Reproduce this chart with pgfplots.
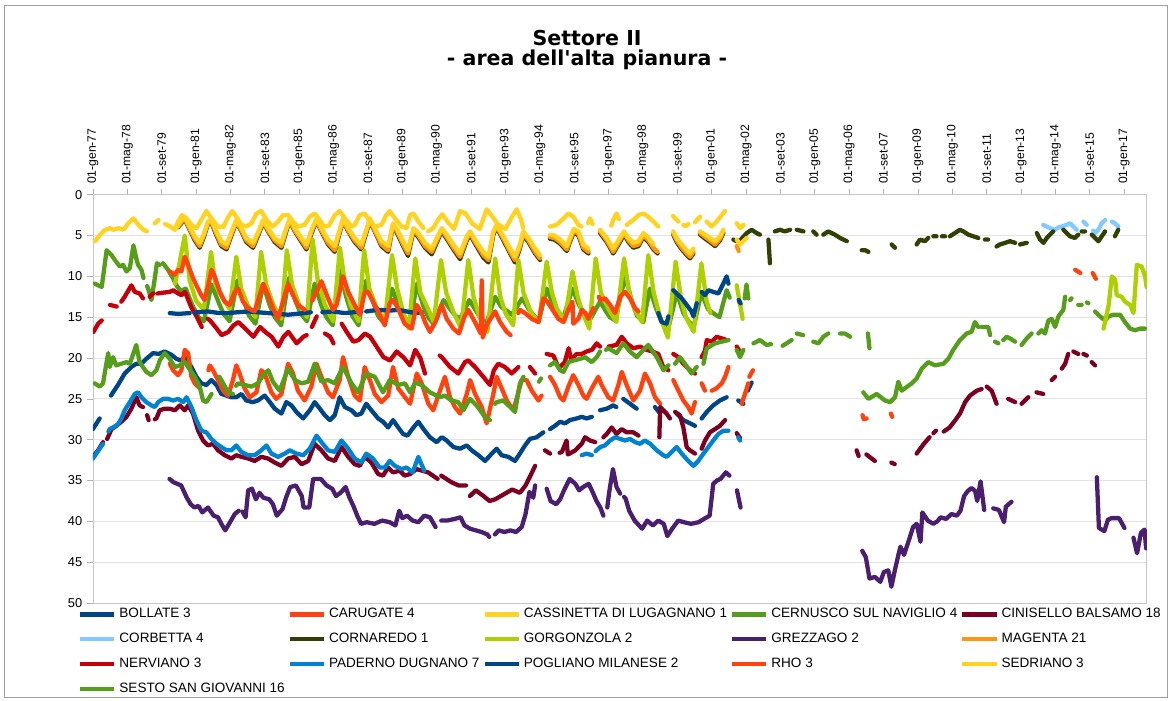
\documentclass[border=0pt]{standalone}
\usepackage{fontspec}
\setmainfont{Liberation Sans}[Ligatures=TeXOff]
\newfontfamily\titlefont{DejaVu Sans}[Ligatures=TeXOff]
\usepackage{pgfplots}
\pgfplotsset{compat=1.18}
\definecolor{cBol}{HTML}{004586}
\definecolor{cCar}{HTML}{FF420E}
\definecolor{cCas}{HTML}{FFD320}
\definecolor{cCer}{HTML}{579D1C}
\definecolor{cCin}{HTML}{7E0021}
\definecolor{cCor}{HTML}{83CAFF}
\definecolor{cCrn}{HTML}{314004}
\definecolor{cGor}{HTML}{AECF00}
\definecolor{cGre}{HTML}{4B1F6F}
\definecolor{cMag}{HTML}{FF950E}
\definecolor{cNer}{HTML}{C5000B}
\definecolor{cPad}{HTML}{0084D1}
\begin{document}
\begin{tikzpicture}
\useasboundingbox (-65.1pt,-67.9pt) rectangle (754.9pt,422.3pt);
\draw[gray!75, line width=0.7pt] (-61.6pt,-65.8pt) rectangle (752.1pt,418.1pt);
\node[align=center, font=\titlefont\fontsize{14.4}{14}\selectfont\bfseries] at (346pt,387.3pt) {Settore II\\- area dell'alta pianura -};
\begin{axis}[
  scale only axis, width=738pt, height=286pt,
  xmin=1977, xmax=2017.88, ymin=0, ymax=50, y dir=reverse,
  axis line style={gray!45, line width=0.6pt},
  xtick={1977,1978.3333,1979.6667,1981,1982.3333,1983.6667,1985,1986.3333,1987.6667,1989,1990.3333,1991.6667,1993,1994.3333,1995.6667,1997,1998.3333,1999.6667,2001,2002.3333,2003.6667,2005,2006.3333,2007.6667,2009,2010.3333,2011.6667,2013,2014.3333,2015.6667,2017},
  xticklabels={01-gen-77,01-mag-78,01-set-79,01-gen-81,01-mag-82,01-set-83,01-gen-85,01-mag-86,01-set-87,01-gen-89,01-mag-90,01-set-91,01-gen-93,01-mag-94,01-set-95,01-gen-97,01-mag-98,01-set-99,01-gen-01,01-mag-02,01-set-03,01-gen-05,01-mag-06,01-set-07,01-gen-09,01-mag-10,01-set-11,01-gen-13,01-mag-14,01-set-15,01-gen-17},
  minor x tick num=1,
  xtick pos=right, xticklabel pos=right,
  xticklabel style={rotate=90, anchor=west, font=\fontsize{8.5}{10}\selectfont},
  ytick={0,5,...,50}, ytick pos=left,
  yticklabel style={font=\fontsize{9}{10}\selectfont},
  /pgf/number format/assume math mode=true,
  tick align=outside, major tick length=4pt, minor tick length=3pt,
  tick style={gray!60, line width=0.5pt},
  ymajorgrids, grid style={gray!22, line width=0.6pt},
  unbounded coords=jump,
  every axis plot/.append style={line width=3pt, line join=round, line cap=round},
  legend columns=5,
  legend cell align=left,
  legend image code/.code={\draw[#1, line cap=butt] (0pt,0pt) -- (24pt,0pt);},
  legend style={draw=none, fill=none, at={(axis description cs:-0.0142,-0.009)}, anchor=north west,
    font=\fontsize{9.5}{11}\selectfont, inner sep=0pt, outer sep=0pt, row sep=6.3pt,
    nodes={inner sep=1pt, text height=6.8pt, text depth=2.2pt},
    /tikz/every odd column/.append style={column sep=1pt},
    /tikz/every even column/.append style={column sep=1pt}},
]
% BOLLATE 3
\addplot[color=cBol] coordinates {(1977.0,28.7)(1977.26,27.4)(0,nan)(1977.7,24.6)(1977.78,24.2)(1977.97,23.3)(1978.23,21.9)(1978.49,21.1)(1978.68,20.7)(1978.88,20.7)(1979.07,20.1)(1979.33,19.4)(1979.55,19.5)(1979.78,19.2)(1980.04,19.6)(1980.24,20.1)(1980.4,20.3)(1980.56,19.9)(1980.82,21.1)(1981.01,22.3)(1981.2,23.1)(1981.4,23.3)(1981.59,22.7)(1981.79,23.3)(1981.98,24.4)(1982.18,24.6)(1982.37,24.8)(1982.56,24.8)(1982.76,24.4)(1982.95,25.2)(1983.2,25.4)(1983.4,25.2)(1983.66,24.6)(1983.86,25.4)(1984.05,26.2)(1984.31,26.8)(1984.5,25.4)(1984.7,25.8)(1984.89,26.6)(1985.15,27.4)(1985.41,26.4)(1985.6,25.4)(1985.8,26.2)(1985.99,27.0)(1986.19,27.6)(1986.38,27.0)(1986.57,24.8)(1986.77,26.0)(1987.03,26.4)(1987.22,27.0)(1987.41,26.8)(1987.6,25.6)(1987.8,26.4)(1988.06,27.4)(1988.25,27.8)(1988.45,28.5)(1988.64,27.6)(1988.84,28.5)(1989.03,29.3)(1989.2,29.5)(1989.43,28.5)(1989.62,27.8)(1989.82,28.7)(1990.07,29.7)(1990.33,30.3)(1990.53,29.7)(1990.72,30.1)(1990.98,30.9)(1991.24,31.1)(1991.5,30.7)(1991.69,31.3)(1991.95,31.9)(1992.21,32.6)(1992.47,31.7)(1992.66,31.1)(1992.85,31.9)(1993.11,32.1)(1993.37,32.6)(1993.56,31.7)(1993.76,30.7)(1993.95,29.9)(1994.21,29.7)(1994.47,29.1)(0,nan)(1994.73,28.7)(1994.92,28.3)(1995.12,27.8)(1995.31,28.0)(1995.5,27.6)(1995.76,27.4)(1995.96,27.2)(1996.15,27.4)(1996.35,27.2)(0,nan)(1996.67,26.4)(1996.93,26.2)(1997.18,25.8)(1997.3,26.0)(0,nan)(1997.57,25.0)(1997.83,25.6)(1998.09,26.2)(0,nan)(1998.8,26.0)(1999.0,26.8)(0,nan)(1999.64,26.8)(1999.9,27.6)(2000.16,28.0)(2000.35,28.3)(0,nan)(2000.61,27.4)(2000.81,26.6)(2001.06,25.8)(2001.32,25.2)(2001.58,24.8)(0,nan)(2002.03,25.2)(2002.23,25.6)(0,nan)(2002.4,24.0)(2002.55,23.0)};
\addlegendentry{BOLLATE 3}
% CARUGATE 4
\addplot[color=cCar] coordinates {(1979.98,20.7)(1980.11,21.5)(1980.3,22.1)(1980.43,21.5)(1980.56,19.0)(1980.69,19.4)(1980.82,22.3)(1980.95,23.1)(1981.14,23.7)(0,nan)(1981.48,21.5)(1981.53,20.9)(1981.66,21.5)(1981.85,22.7)(1982.05,24.0)(1982.24,24.6)(1982.43,22.7)(1982.56,20.9)(1982.69,21.9)(1982.88,23.7)(1983.08,24.8)(1983.34,24.2)(1983.53,21.5)(1983.66,21.9)(1983.92,24.2)(1984.11,25.0)(1984.31,24.4)(1984.57,20.7)(1984.76,21.9)(1984.95,24.0)(1985.21,25.2)(1985.47,23.5)(1985.67,20.7)(1985.86,22.3)(1986.12,24.2)(1986.31,24.8)(1986.57,22.7)(1986.7,19.9)(1986.9,22.3)(1987.15,24.6)(1987.35,25.2)(1987.54,21.1)(1987.74,22.7)(1987.93,24.4)(1988.19,25.4)(1988.45,24.6)(1988.64,21.1)(1988.84,23.7)(1989.1,24.8)(1989.3,25.6)(1989.56,21.9)(1989.75,23.1)(1990.01,25.6)(1990.2,26.4)(1990.46,24.0)(1990.65,22.3)(1990.85,24.8)(1991.04,26.0)(1991.24,26.8)(1991.5,24.4)(1991.63,22.7)(1991.82,24.4)(1992.08,26.0)(1992.27,28.0)(1992.53,24.4)(1992.66,22.3)(1992.85,23.7)(1993.05,25.2)(1993.31,26.4)(1993.5,24.2)(1993.63,22.7)(1993.82,22.7)(1994.02,24.0)(1994.28,25.2)(1994.4,24.6)(0,nan)(1994.73,22.3)(1994.92,23.3)(1995.12,24.8)(1995.25,25.2)(1995.44,23.5)(1995.63,22.1)(1995.83,23.3)(1996.02,24.6)(1996.15,25.0)(1996.35,23.7)(1996.6,22.3)(1996.73,23.3)(1996.99,24.8)(1997.18,25.2)(1997.38,23.3)(1997.51,21.7)(1997.7,23.3)(1997.96,25.2)(1998.22,24.0)(1998.41,21.9)(1998.61,23.1)(1998.8,24.8)(1999.0,25.6)(0,nan)(1999.51,22.7)(1999.71,24.0)(1999.9,25.2)(2000.09,26.0)(2000.22,26.8)(2000.35,25.4)(0,nan)(2000.61,23.1)(2000.74,24.0)(0,nan)(2001.0,24.0)(2001.19,23.7)(2001.39,23.1)(2001.52,22.3)(2001.65,21.1)(0,nan)(2002.16,25.6)(2002.29,24.4)(2002.42,23.1)(0,nan)(2002.46,22.3)(2002.6,21.5)(0,nan)(2006.85,27.0)(2006.9,27.5)(2007.01,27.4)(0,nan)(2007.95,26.8)(2008.0,27.2)};
\addlegendentry{CARUGATE 4}
% CASSINETTA DI LUGAGNANO 1
\addplot[color=cCas] coordinates {(1977.08,5.7)(1977.28,4.9)(1977.47,4.3)(1977.66,4.1)(1977.79,4.3)(1977.99,4.1)(1978.18,4.3)(1978.37,3.5)(1978.57,2.9)(1978.76,3.7)(1978.96,4.3)(1979.09,4.5)(0,nan)(1979.4,3.5)(1979.54,3.1)(0,nan)(1979.8,3.6)(1979.99,3.9)(1980.18,4.3)(1980.3,3.3)(1980.45,2.5)(1980.65,3.0)(1980.85,3.8)(1981.01,4.1)(1981.2,3.1)(1981.4,2.0)(1981.59,2.9)(1981.85,3.9)(1982.05,4.0)(1982.2,3.0)(1982.4,2.0)(1982.56,2.7)(1982.76,3.7)(1982.95,3.9)(1983.15,3.5)(1983.34,2.3)(1983.53,2.0)(1983.73,3.1)(1983.98,3.9)(1984.18,3.3)(1984.37,2.5)(1984.57,2.5)(1984.76,3.3)(1984.95,3.9)(1985.21,3.7)(1985.41,2.7)(1985.6,2.3)(1985.8,3.1)(1985.95,3.9)(1986.15,3.8)(1986.38,2.5)(1986.57,2.0)(1986.77,2.9)(1987.03,3.9)(1987.15,3.7)(1987.35,2.5)(1987.54,2.3)(1987.74,3.3)(1987.93,3.9)(1988.19,3.7)(1988.38,2.5)(1988.51,2.0)(1988.71,2.9)(1988.97,3.9)(1989.16,4.1)(1989.3,2.5)(1989.43,2.3)(1989.62,3.3)(1989.82,4.1)(0,nan)(1990.0,4.5)(1990.2,4.1)(1990.4,3.0)(1990.55,2.4)(1990.75,3.3)(1991.0,4.2)(1991.24,2.0)(1991.45,2.3)(1991.7,3.5)(1992.0,4.2)(1992.27,1.8)(1992.45,2.5)(1992.7,3.6)(1993.0,4.2)(1993.2,3.0)(1993.43,1.8)(1993.6,3.0)(1993.69,4.1)(0,nan)(1994.73,3.9)(1994.99,3.7)(1995.25,2.9)(1995.44,2.3)(1995.63,2.7)(1995.83,3.7)(1995.95,3.9)(0,nan)(1996.2,3.5)(1996.28,2.9)(1996.38,3.6)(0,nan)(1997.1,3.8)(1997.18,3.1)(1997.31,2.3)(1997.4,3.0)(0,nan)(1997.7,3.7)(1997.96,3.1)(1998.16,2.5)(1998.35,2.3)(1998.54,2.7)(1998.74,3.3)(1998.93,3.9)(0,nan)(1999.5,2.6)(1999.58,2.9)(1999.71,3.3)(0,nan)(1999.9,3.7)(1999.97,3.9)(2000.1,3.6)(0,nan)(2000.35,3.4)(2000.42,3.1)(2000.55,2.7)(0,nan)(2000.8,3.3)(2001.0,3.9)(2001.19,3.3)(2001.39,2.5)(2001.52,2.0)(0,nan)(2001.97,3.5)(2002.1,4.1)(2002.23,3.7)};
\addlegendentry{CASSINETTA DI LUGAGNANO 1}
% CERNUSCO SUL NAVIGLIO 4
\addplot[color=cCer] coordinates {(1977.07,10.9)(1977.34,11.3)(1977.53,6.8)(1977.72,7.4)(1977.85,8.0)(1978.04,8.8)(1978.17,8.6)(1978.3,9.4)(1978.43,9.0)(1978.57,6.2)(1978.68,7.8)(1978.75,8.6)(1978.88,9.2)(1978.96,10.2)(0,nan)(1979.1,11.2)(1979.14,11.5)(1979.27,12.9)(1979.4,10.2)(1979.48,8.4)(1979.59,8.6)(0,nan)(1979.72,8.4)(1979.91,9.2)(1980.1,10.2)(1980.24,11.1)(1980.4,11.8)(1980.6,11.5)(1980.85,13.5)(1981.1,15.0)(1981.3,15.5)(1981.6,11.0)(1981.85,13.0)(1982.05,14.5)(1982.3,15.5)(1982.6,10.5)(1982.85,13.0)(1983.05,14.8)(1983.3,15.8)(1983.6,11.0)(1983.85,13.5)(1984.05,15.0)(1984.3,16.0)(1984.6,10.2)(1984.85,13.0)(1985.05,14.5)(1985.3,15.5)(1985.6,10.9)(1985.85,13.5)(1986.05,15.0)(1986.3,16.0)(1986.57,9.2)(1986.82,12.5)(1987.05,14.8)(1987.3,16.0)(1987.6,10.5)(1987.85,13.0)(1988.05,14.8)(1988.3,15.8)(1988.6,11.5)(1988.85,13.5)(1989.05,15.0)(1989.3,16.0)(1989.56,10.9)(1989.8,13.5)(1990.0,15.0)(1990.2,15.8)(1990.6,12.9)(1990.85,14.0)(1991.05,14.8)(1991.24,15.2)(1991.6,12.9)(1991.85,14.2)(1992.05,15.2)(1992.25,15.8)(1992.6,12.5)(1992.85,13.8)(1993.05,14.2)(1993.24,14.7)(1993.65,12.7)(1993.9,14.0)(1994.1,14.8)(1994.3,15.4)(1994.6,11.5)(1994.85,13.5)(1995.05,14.5)(1995.25,15.0)(1995.6,11.5)(1995.85,13.5)(1996.05,14.5)(1996.3,15.2)(1996.67,13.1)(1996.9,14.3)(1997.05,15.0)(1997.25,15.4)(1997.65,10.0)(1997.9,13.0)(1998.1,14.8)(1998.35,15.6)(1998.6,11.5)(1998.85,14.0)(1999.05,15.5)(1999.3,16.6)(1999.65,12.0)(1999.9,14.5)(2000.1,15.5)(2000.3,16.2)(2000.6,12.0)(2000.85,14.0)(2001.05,14.5)(2001.3,15.0)(2001.58,11.7)(2001.7,12.6)(0,nan)(2002.05,13.0)(2002.12,13.5)(0,nan)(2002.28,12.7)(2002.35,11.0)(2002.42,12.7)(0,nan)(2006.88,24.2)(2007.08,25.0)(2007.4,24.4)(2007.72,25.2)(2007.92,25.4)(2008.11,24.8)(2008.24,22.9)(2008.37,24.0)(2008.76,23.1)(2008.95,22.5)(2009.15,21.3)(2009.4,20.5)(2009.66,20.9)(2009.99,20.7)(2010.18,20.1)(2010.37,19.0)(2010.63,17.8)(2010.89,17.0)(2011.08,16.8)(2011.21,15.6)(2011.34,16.2)(0,nan)(2011.47,16.2)(2011.73,16.2)(2011.8,17.2)(0,nan)(2011.99,18.0)(2012.12,18.2)(0,nan)(2012.31,17.8)(2012.44,17.4)(2012.57,17.6)(2012.77,18.0)(0,nan)(2013.02,18.4)(2013.22,17.6)(2013.41,17.0)(0,nan)(2013.67,17.0)(2013.8,16.6)(2013.93,17.0)(2014.06,15.4)(2014.19,15.2)(2014.32,16.2)(2014.45,14.9)(2014.64,14.1)(2014.71,12.5)(0,nan)(2014.9,12.9)(2014.96,12.7)(0,nan)(2015.22,13.5)(2015.35,13.5)(0,nan)(2015.55,13.2)(2015.61,13.3)(0,nan)(2015.87,14.3)(2016.06,14.9)(2016.26,15.4)(2016.39,14.9)(2016.58,14.7)(2016.84,14.7)(2017.03,15.6)(2017.23,16.4)(2017.42,16.6)(2017.62,16.4)(2017.81,16.4)};
\addlegendentry{CERNUSCO SUL NAVIGLIO 4}
% CINISELLO BALSAMO 18
\addplot[color=cCin] coordinates {(1977.0,32.1)(1977.2,31.3)(1977.39,30.3)(0,nan)(1977.55,29.9)(1977.72,28.7)(1977.91,28.3)(1978.1,27.8)(1978.3,27.2)(1978.49,26.2)(1978.68,24.8)(1978.81,25.8)(1978.94,26.0)(0,nan)(1979.1,27.0)(1979.16,27.6)(0,nan)(1979.4,27.5)(1979.46,27.4)(1979.59,26.4)(1979.78,26.2)(1979.98,26.2)(1980.17,26.4)(1980.37,25.8)(1980.56,26.4)(1980.69,25.8)(1980.88,26.8)(1981.08,28.9)(1981.27,30.1)(1981.46,30.7)(1981.66,30.5)(1981.85,31.3)(1982.11,31.9)(1982.37,32.3)(1982.56,31.9)(1982.76,32.1)(1983.02,32.3)(1983.27,32.6)(1983.53,32.1)(1983.79,32.3)(1984.05,32.8)(1984.31,33.2)(1984.57,32.3)(1984.83,32.1)(1985.09,33.0)(1985.35,32.6)(1985.6,30.5)(1985.86,31.3)(1986.12,32.3)(1986.38,32.6)(1986.64,30.9)(1986.9,32.1)(1987.15,33.0)(1987.35,33.2)(1987.54,32.1)(1987.8,32.8)(1988.06,34.2)(1988.25,34.4)(1988.45,33.4)(1988.64,34.0)(1988.9,33.8)(1989.09,34.4)(1989.3,34.2)(1989.55,33.6)(1990.0,34.0)(1990.37,34.8)(0,nan)(1990.51,34.4)(1990.9,35.2)(1991.18,35.6)(1991.47,35.6)(0,nan)(1991.62,36.9)(1991.85,36.2)(1992.15,36.9)(1992.38,37.5)(1992.6,37.3)(1992.82,36.9)(1993.04,36.5)(1993.26,36.1)(1993.56,36.5)(1993.78,35.6)(1994.0,34.2)(1994.15,33.2)(0,nan)(1994.53,31.3)(1994.73,31.7)(0,nan)(1995.1,31.6)(1995.19,31.5)(1995.37,30.1)(1995.42,31.8)(1995.49,31.7)(1995.71,31.3)(1995.83,30.9)(1995.96,30.5)(1996.09,29.7)(1996.28,30.1)(1996.48,30.3)(0,nan)(1996.8,29.7)(1996.93,29.3)(1997.12,28.5)(1997.31,29.3)(1997.51,28.7)(1997.7,29.1)(1997.96,29.1)(1998.16,29.5)(0,nan)(1998.97,29.7)(1999.0,26.0)(1999.06,26.2)(1999.25,26.8)(1999.38,27.4)(0,nan)(1999.58,26.6)(1999.77,27.0)(1999.9,28.5)(2000.03,30.9)(2000.16,31.3)(2000.35,31.7)(0,nan)(2000.61,31.1)(2000.74,30.1)(2000.93,29.1)(2001.13,28.7)(2001.32,28.3)(2001.52,27.6)(0,nan)(2001.97,29.2)(2002.1,29.8)(0,nan)(2006.62,31.3)(2006.7,32.0)(0,nan)(2007.0,31.8)(2007.12,32.1)(2007.33,32.6)(0,nan)(2007.97,32.8)(2008.1,33.0)(0,nan)(2008.95,31.7)(2009.23,30.5)(2009.45,29.7)(0,nan)(2009.6,29.2)(2009.7,28.9)(0,nan)(2010.0,29.0)(2010.23,28.5)(2010.45,27.6)(2010.63,26.8)(2010.83,25.4)(2011.02,24.6)(2011.28,24.0)(2011.47,23.8)(0,nan)(2011.67,23.5)(2011.86,24.0)(2012.05,25.6)(0,nan)(2012.5,25.0)(2012.77,25.4)(0,nan)(2013.02,25.6)(2013.28,24.8)(0,nan)(2013.6,24.2)(2013.86,24.4)(0,nan)(2014.19,22.7)(2014.32,22.3)(0,nan)(2014.58,21.3)(2014.71,20.7)(2014.83,19.5)(0,nan)(2015.03,19.2)(2015.22,19.5)(0,nan)(2015.42,19.5)(2015.55,19.7)(0,nan)(2015.74,20.5)(2015.87,20.9)};
\addlegendentry{CINISELLO BALSAMO 18}
% CORBETTA 4
\addplot[color=cCor] coordinates {(2013.86,3.7)(2014.12,4.1)(2014.32,4.3)(2014.45,4.0)(2014.58,3.9)(2014.77,3.7)(2014.9,3.5)(2015.03,3.9)(2015.16,4.3)(0,nan)(2015.42,3.3)(2015.55,3.7)(0,nan)(2015.8,4.4)(2015.87,4.7)(2016.0,4.3)(2016.13,3.5)(2016.26,3.1)(0,nan)(2016.52,3.3)(2016.64,3.5)(2016.77,3.9)};
\addlegendentry{CORBETTA 4}
% CORNAREDO 1
\addplot[color=cCrn] coordinates {(1980.3,4.0)(1980.56,3.0)(1980.75,4.3)(1980.95,5.6)(1981.14,6.5)(1981.3,5.2)(1981.46,3.6)(1981.59,3.4)(1981.79,5.0)(1981.98,6.3)(1982.18,6.7)(1982.38,4.9)(1982.56,3.4)(1982.76,4.5)(1982.95,5.8)(1983.21,6.5)(1983.42,4.9)(1983.6,3.4)(1983.79,4.5)(1984.05,5.8)(1984.31,6.5)(1984.48,4.7)(1984.63,3.2)(1984.83,4.5)(1985.09,5.8)(1985.28,6.7)(1985.48,4.7)(1985.67,3.2)(1985.86,4.5)(1986.12,6.1)(1986.38,7.0)(1986.55,4.9)(1986.7,3.2)(1986.9,4.5)(1987.15,5.8)(1987.41,6.7)(1987.6,4.7)(1987.74,3.2)(1987.93,4.5)(1988.19,6.3)(1988.45,7.0)(1988.64,3.8)(1988.84,5.0)(1989.03,6.3)(1989.22,7.5)(1989.43,4.5)(1989.62,5.2)(1989.88,6.5)(1990.14,7.3)(1990.4,5.4)(1990.53,4.5)(1990.72,5.4)(1990.98,6.7)(1991.24,7.9)(1991.5,5.6)(1991.63,4.9)(1991.82,6.0)(1992.14,7.7)(1992.34,8.3)(1992.53,4.9)(1992.66,4.0)(1992.92,5.6)(1993.18,7.2)(1993.37,8.3)(1993.56,6.6)(1993.69,4.9)(1993.89,5.8)(1994.15,7.2)(1994.34,8.0)(0,nan)(1994.73,5.4)(1994.9,5.5)(1995.12,6.0)(1995.38,6.9)(1995.5,5.8)(1995.65,4.6)(1995.83,5.0)(1996.02,6.7)(1996.22,7.2)(0,nan)(1996.67,4.7)(1996.93,5.8)(1997.18,7.2)(1997.44,5.8)(1997.6,4.9)(1997.77,5.8)(1997.96,6.5)(1998.16,6.3)(1998.35,5.2)(1998.55,5.8)(1998.74,6.7)(1998.9,7.2)(0,nan)(1999.51,4.9)(1999.64,5.8)(1999.84,6.7)(2000.03,7.4)(2000.16,7.8)(2000.29,7.2)(0,nan)(2000.55,4.9)(2000.75,5.4)(2000.93,5.8)(2001.13,6.3)(2001.32,5.6)(2001.45,4.7)(0,nan)(2001.84,5.5)(2001.97,5.7)(2002.1,5.6)(2002.36,4.7)(2002.55,4.3)(2002.74,4.7)(2002.87,4.9)(0,nan)(2003.2,5.5)(2003.26,8.4)(0,nan)(2003.45,4.5)(2003.65,4.3)(2003.84,4.5)(2004.04,4.3)(0,nan)(2004.3,4.3)(2004.56,4.5)(0,nan)(2004.94,4.5)(2005.07,4.9)(0,nan)(2005.33,4.9)(2005.52,4.5)(2005.78,4.9)(2005.98,5.3)(2006.24,5.7)(0,nan)(2006.82,6.8)(2006.95,6.8)(2007.08,7.0)(0,nan)(2007.98,6.1)(2008.11,6.5)(0,nan)(2008.95,6.1)(2009.08,5.5)(2009.27,5.7)(2009.4,5.3)(0,nan)(2009.6,5.1)(2009.72,5.1)(0,nan)(2009.93,5.1)(2010.05,5.1)(0,nan)(2010.24,5.1)(2010.63,4.3)(2010.76,4.5)(2010.96,4.9)(2011.15,5.1)(2011.34,5.3)(0,nan)(2011.6,5.5)(2011.72,5.5)(0,nan)(2012.05,6.35)(2012.18,6.1)(2012.38,5.9)(2012.57,5.7)(2012.77,5.9)(0,nan)(2012.96,6.1)(2013.22,5.9)(0,nan)(2013.61,4.7)(2013.74,5.5)(2013.87,5.9)(2014.0,5.3)(2014.12,4.9)(2014.25,4.5)(0,nan)(2014.64,4.3)(2014.77,4.7)(2014.9,5.1)(2015.09,5.3)(2015.22,4.9)(0,nan)(2015.35,4.5)(2015.48,4.5)(0,nan)(2015.74,4.9)(2015.87,5.3)(2016.0,5.7)(2016.13,5.1)(2016.26,4.5)(0,nan)(2016.64,5.1)(2016.77,4.3)};
\addlegendentry{CORNAREDO 1}
% GORGONZOLA 2
\addplot[color=cGor] coordinates {(1980.18,10.9)(1980.35,8.5)(1980.56,5.0)(1980.75,10.5)(1981.0,13.0)(1981.3,14.1)(1981.58,7.0)(1981.75,11.0)(1982.0,12.5)(1982.3,14.0)(1982.56,7.6)(1982.75,11.5)(1983.0,13.5)(1983.3,15.0)(1983.52,7.0)(1983.72,11.0)(1984.0,13.5)(1984.3,15.2)(1984.52,6.8)(1984.72,11.0)(1985.0,13.5)(1985.3,15.0)(1985.52,5.5)(1985.72,10.5)(1986.0,13.5)(1986.32,15.5)(1986.58,6.5)(1986.78,11.0)(1987.0,13.5)(1987.3,15.5)(1987.52,6.8)(1987.72,11.5)(1988.0,13.8)(1988.32,15.5)(1988.6,7.4)(1988.8,11.5)(1989.0,14.0)(1989.25,16.4)(1989.5,7.8)(1989.7,12.0)(1990.0,14.0)(1990.22,15.6)(1990.5,8.0)(1990.7,12.0)(1991.0,14.5)(1991.28,16.4)(1991.56,8.0)(1991.76,12.5)(1992.0,15.0)(1992.3,16.8)(1992.6,7.8)(1992.8,12.5)(1993.0,14.5)(1993.3,16.0)(1993.5,8.0)(1993.7,12.0)(1994.0,14.5)(1994.3,15.6)(1994.6,8.2)(1994.8,12.0)(1995.0,14.0)(1995.3,15.4)(1995.6,9.4)(1995.8,12.5)(1996.0,14.5)(1996.25,16.4)(1996.5,7.8)(1996.7,12.0)(1997.0,14.0)(1997.3,15.6)(1997.6,7.8)(1997.8,12.0)(1998.0,14.0)(1998.3,15.6)(1998.54,7.4)(1998.75,12.0)(1999.0,15.0)(1999.3,17.5)(1999.6,8.2)(1999.8,12.5)(2000.0,15.0)(2000.3,16.8)(2000.6,8.4)(2000.8,13.0)(2000.95,14.5)(0,nan)(2001.97,11.1)(2002.2,15.2)(0,nan)(2016.2,16.4)(2016.4,13.5)(2016.52,10.0)(2016.65,10.4)(2016.71,12.3)(2016.9,12.5)(2017.03,13.1)(2017.23,13.5)(2017.36,14.5)(2017.49,8.6)(2017.68,8.8)(2017.81,10.0)(2017.87,11.3)};
\addlegendentry{GORGONZOLA 2}
% GREZZAGO 2
\addplot[color=cGre] coordinates {(1979.97,34.8)(1980.12,35.2)(1980.42,35.6)(1980.64,37.1)(1980.79,37.9)(1980.94,38.3)(1981.09,38.1)(1981.24,38.9)(1981.46,38.3)(1981.68,39.3)(1981.85,39.5)(1981.98,40.3)(1982.13,41.1)(1982.28,40.3)(1982.5,39.1)(1982.65,38.7)(0,nan)(1982.8,38.8)(1982.92,39.5)(1983.02,36.2)(1983.17,36.0)(1983.32,37.3)(1983.46,36.5)(1983.61,37.1)(1983.84,37.3)(1983.98,37.9)(1984.13,39.3)(1984.35,38.5)(1984.5,37.0)(1984.65,35.8)(1984.87,35.6)(1985.1,36.9)(1985.17,38.3)(1985.39,38.3)(1985.54,34.8)(1985.84,34.8)(1986.06,35.6)(1986.28,36.0)(1986.43,36.9)(1986.6,36.5)(1986.8,35.8)(1986.95,37.1)(1987.1,38.1)(1987.25,39.3)(1987.4,40.3)(1987.62,40.1)(1987.92,40.3)(1988.21,39.9)(1988.51,40.1)(1988.73,40.5)(1988.88,38.7)(1989.0,39.6)(1989.18,39.3)(1989.4,39.9)(1989.62,40.1)(1989.85,39.3)(1990.07,39.5)(1990.29,40.7)(0,nan)(1990.51,39.9)(1990.74,39.9)(1991.03,39.7)(1991.26,39.5)(1991.41,40.5)(1991.63,40.9)(1991.85,41.1)(1992.07,41.3)(1992.3,41.6)(1992.37,41.9)(0,nan)(1992.59,41.6)(1992.74,41.1)(1992.96,41.3)(1993.19,41.1)(1993.41,41.3)(1993.63,40.7)(1993.78,39.1)(1993.93,36.4)(1994.08,37.1)(1994.15,35.6)(0,nan)(1994.6,36.0)(1994.75,37.5)(1994.97,37.9)(1995.12,37.3)(1995.27,36.2)(1995.49,34.8)(1995.71,35.4)(1995.86,36.2)(1996.01,35.8)(1996.23,35.4)(1996.38,36.4)(1996.53,37.5)(1996.68,38.3)(1996.8,39.3)(0,nan)(1996.95,38.3)(1997.02,36.5)(1997.17,33.6)(1997.31,35.8)(1997.45,36.6)(0,nan)(1997.6,37.0)(1997.66,37.2)(1997.8,38.7)(1998.01,39.9)(1998.3,40.9)(1998.5,39.9)(1998.72,40.5)(1998.93,39.9)(1999.14,40.3)(1999.28,41.8)(1999.49,40.8)(1999.7,39.9)(1999.92,40.1)(2000.2,40.3)(2000.49,40.1)(2000.7,39.7)(2000.92,39.3)(2001.06,35.4)(2001.2,35.0)(2001.34,34.8)(2001.55,34.0)(2001.69,34.4)(0,nan)(2001.98,36.2)(2002.12,38.3)(0,nan)(2006.84,43.6)(2006.98,44.4)(2007.12,47.0)(2007.33,46.8)(2007.54,47.4)(2007.68,46.2)(2007.85,46.0)(2007.97,48.0)(2008.11,45.9)(2008.25,44.0)(2008.32,43.1)(2008.46,44.1)(2008.67,42.1)(2008.81,40.7)(2008.95,40.3)(2009.1,42.5)(2009.17,38.9)(2009.38,39.9)(2009.59,40.3)(2009.75,40.0)(2009.88,39.5)(2010.09,39.7)(2010.3,39.1)(2010.51,39.3)(2010.65,38.7)(2010.79,36.9)(2010.93,36.3)(2011.08,35.9)(2011.22,36.3)(2011.3,37.5)(2011.43,35.1)(2011.57,38.6)(0,nan)(2011.92,38.4)(2012.14,38.6)(2012.34,40.1)(2012.41,38.2)(2012.63,37.6)(0,nan)(2015.94,34.6)(2016.02,40.8)(2016.23,41.2)(2016.37,39.8)(2016.51,39.6)(2016.8,39.6)(2017.01,40.8)(0,nan)(2017.36,42.0)(2017.5,43.9)(2017.65,41.4)(2017.79,41.0)(2017.85,43.3)};
\addlegendentry{GREZZAGO 2}
% MAGENTA 21
\addplot[color=cMag] coordinates {(1980.3,3.9)(1980.56,2.9)(1980.75,4.2)(1980.95,5.4)(1981.14,6.3)(1981.3,5.0)(1981.46,3.5)(1981.59,3.3)(1981.79,4.8)(1981.98,6.1)(1982.18,6.5)(1982.38,4.7)(1982.56,3.3)(1982.76,4.4)(1982.95,5.6)(1983.21,6.3)(1983.42,4.7)(1983.6,3.3)(1983.79,4.4)(1984.05,5.6)(1984.31,6.3)(1984.48,4.5)(1984.63,3.1)(1984.83,4.4)(1985.09,5.6)(1985.28,6.5)(1985.48,4.5)(1985.67,3.1)(1985.86,4.4)(1986.12,5.9)(1986.38,6.8)(1986.55,4.7)(1986.7,3.1)(1986.9,4.4)(1987.15,5.6)(1987.41,6.5)(1987.6,4.5)(1987.74,3.1)(1987.93,4.4)(1988.19,6.1)(1988.45,6.8)(1988.64,3.7)(1988.84,4.8)(1989.03,6.1)(1989.22,7.2)(1989.43,4.3)(1989.62,5.0)(1989.88,6.3)(1990.14,7.0)(1990.4,5.2)(1990.53,4.3)(1990.72,5.2)(1990.98,6.5)(1991.24,7.6)(1991.5,5.4)(1991.63,4.7)(1991.82,5.8)(1992.14,7.4)(1992.34,8.0)(1992.53,4.7)(1992.66,3.9)(1992.92,5.4)(1993.18,7.0)(1993.37,8.0)(1993.56,6.4)(1993.69,4.7)(1993.89,5.6)(1994.15,7.0)(1994.34,7.8)(0,nan)(1994.73,5.2)(1994.9,5.3)(1995.12,5.8)(1995.38,6.7)(1995.5,5.6)(1995.65,4.4)(1995.83,4.8)(1996.02,6.5)(1996.22,7.0)(0,nan)(1996.67,4.5)(1996.93,5.6)(1997.18,7.0)(1997.44,5.6)(1997.6,4.7)(1997.77,5.6)(1997.96,6.3)(1998.16,6.1)(1998.35,5.0)(1998.55,5.6)(1998.74,6.5)(1998.9,7.0)(0,nan)(1999.51,4.7)(1999.64,5.6)(1999.84,6.5)(2000.03,7.2)(2000.16,7.6)(2000.29,7.0)(0,nan)(2000.55,4.7)(2000.75,5.2)(2000.93,5.6)(2001.13,6.1)(2001.32,5.4)(2001.45,4.5)(0,nan)(2001.97,6.3)(2002.05,6.9)};
\addlegendentry{MAGENTA 21}
% NERVIANO 3
\addplot[color=cNer] coordinates {(1977.02,16.8)(1977.2,15.8)(1977.34,15.4)(0,nan)(1977.66,13.5)(1977.92,13.7)(0,nan)(1978.1,13.1)(1978.23,12.5)(1978.49,11.1)(1978.62,11.9)(1978.81,12.1)(1978.94,12.7)(0,nan)(1979.2,12.5)(1979.33,12.1)(0,nan)(1979.5,12.1)(1979.72,12.0)(1979.98,11.9)(1980.12,11.7)(1980.3,12.1)(1980.43,12.3)(1980.57,11.9)(1980.83,13.9)(1981.02,14.9)(1981.22,16.2)(0,nan)(1981.45,15.2)(1981.54,15.4)(1981.8,16.4)(1981.99,17.2)(1982.25,16.8)(1982.45,16.0)(1982.64,15.6)(1982.84,16.2)(1983.03,16.8)(1983.22,17.4)(1983.48,16.2)(1983.68,16.8)(1983.93,17.4)(1984.19,18.6)(1984.39,17.4)(1984.58,16.8)(1984.9,18.2)(1985.16,17.4)(1985.29,17.2)(0,nan)(1985.49,16.2)(1985.68,14.9)(0,nan)(1986.0,17.0)(1986.2,17.4)(1986.33,18.2)(0,nan)(1986.65,15.8)(1986.84,16.8)(1987.1,18.0)(1987.3,17.8)(1987.55,17.0)(1987.75,17.4)(1988.0,18.6)(1988.27,19.9)(1988.52,20.3)(1988.78,19.2)(1989.04,19.9)(1989.3,20.9)(1989.5,19.0)(1989.7,20.0)(1989.88,21.9)(0,nan)(1990.45,19.7)(1990.53,19.9)(1990.85,21.1)(1991.17,21.9)(1991.43,20.5)(1991.56,20.3)(1991.82,21.1)(1992.14,22.3)(1992.4,23.3)(1992.55,21.5)(1992.72,20.7)(1992.98,21.1)(1993.24,21.9)(1993.5,21.1)(0,nan)(1993.95,21.1)(1994.15,21.9)(0,nan)(1994.6,19.5)(1994.86,19.7)(1995.05,21.1)(1995.12,21.1)(1995.3,20.5)(1995.45,18.8)(1995.55,20.2)(1995.76,19.5)(1995.96,19.5)(1996.15,19.2)(1996.35,19.0)(1996.54,18.2)(1996.67,18.6)(0,nan)(1997.0,18.6)(1997.31,18.4)(1997.51,17.4)(1997.7,18.2)(1997.96,18.8)(1998.22,18.6)(1998.48,19.0)(1998.7,19.2)(1998.93,19.5)(1999.12,21.1)(1999.32,21.5)(0,nan)(1999.51,19.5)(1999.71,19.9)(1999.9,20.7)(2000.03,21.1)(2000.16,21.5)(2000.35,21.9)(0,nan)(2000.61,19.9)(2000.74,19.1)(2000.81,17.8)(2001.0,18.0)(2001.19,17.4)(2001.39,17.6)(2001.58,17.8)(0,nan)(2001.97,18.6)(2002.05,19.0)};
\addlegendentry{NERVIANO 3}
% PADERNO DUGNANO 7
\addplot[color=cPad] coordinates {(1977.0,32.3)(1977.13,31.7)(1977.26,31.1)(1977.39,30.5)(0,nan)(1977.6,29.0)(1977.65,28.7)(1977.78,28.5)(1977.97,28.1)(1978.1,27.4)(1978.23,26.4)(1978.43,25.4)(1978.62,24.4)(1978.75,24.2)(1978.88,24.8)(1979.07,25.4)(1979.27,25.8)(1979.4,26.0)(1979.53,25.4)(1979.72,25.0)(1979.91,25.0)(1980.11,25.2)(1980.3,25.0)(1980.5,25.4)(1980.63,24.8)(1980.82,26.0)(1981.01,27.6)(1981.21,28.9)(1981.4,29.1)(1981.59,29.9)(1981.79,30.5)(1981.98,30.9)(1982.18,31.3)(1982.37,31.3)(1982.56,30.7)(1982.76,31.5)(1983.02,31.9)(1983.27,31.9)(1983.53,31.3)(1983.73,30.7)(1983.92,31.7)(1984.18,32.1)(1984.44,31.7)(1984.63,31.3)(1984.89,31.7)(1985.15,31.9)(1985.41,31.1)(1985.67,29.5)(1985.86,30.3)(1986.12,31.3)(1986.38,31.5)(1986.64,30.1)(1986.9,31.1)(1987.15,32.3)(1987.41,32.8)(1987.6,31.7)(1987.86,32.3)(1988.12,33.4)(1988.32,33.4)(1988.51,32.6)(1988.71,33.2)(1988.97,33.6)(1989.16,33.4)(1989.4,34.0)(1989.62,32.1)(1989.85,33.8)(0,nan)(1995.96,31.9)(1996.15,31.7)(1996.35,31.9)(0,nan)(1996.5,31.4)(1996.67,30.9)(1996.86,30.7)(1997.06,30.1)(1997.25,29.7)(1997.45,29.9)(1997.64,30.1)(1997.83,29.9)(1998.03,30.3)(1998.22,30.5)(1998.41,30.1)(1998.61,30.5)(1998.87,31.3)(1999.12,31.9)(1999.25,32.1)(1999.45,31.5)(1999.64,30.9)(1999.84,31.7)(2000.09,32.6)(2000.29,33.2)(2000.48,32.6)(2000.68,31.7)(2000.87,30.9)(2001.06,30.1)(2001.26,29.3)(2001.45,28.9)(2001.65,28.9)(0,nan)(2002.03,29.7)(2002.1,30.1)};
\addlegendentry{PADERNO DUGNANO 7}
% POGLIANO MILANESE 2
\addplot[color=cBol] coordinates {(1979.98,14.5)(1980.3,14.6)(1980.75,14.5)(0,nan)(1980.95,14.5)(1981.0,14.4)(1981.46,14.3)(1981.9,14.5)(1982.24,14.5)(1982.6,14.4)(1983.02,14.3)(1983.4,14.4)(1983.79,14.5)(1984.2,14.6)(1984.57,14.7)(1985.21,14.5)(1985.45,14.4)(0,nan)(1985.9,14.4)(1986.3,14.3)(1986.77,14.5)(1987.1,14.4)(1987.41,14.3)(0,nan)(1987.6,14.3)(1988.06,14.1)(1988.5,14.2)(1988.84,14.1)(1989.17,14.3)(1989.5,14.5)(1989.75,14.4)(0,nan)(1998.93,14.5)(1999.06,15.6)(1999.25,15.8)(1999.32,14.9)(0,nan)(1999.51,11.7)(1999.64,12.1)(1999.84,12.7)(2000.03,13.5)(2000.22,14.3)(2000.29,14.9)(2000.42,13.3)(0,nan)(2000.61,11.9)(2000.74,12.3)(2000.87,11.7)(2001.06,11.9)(2001.26,12.1)(2001.45,10.9)(2001.58,10.0)(2001.65,10.9)(0,nan)(2002.05,12.9)(2002.12,13.3)};
\addlegendentry{POGLIANO MILANESE 2}
% RHO 3
\addplot[color=cCar] coordinates {(1979.98,9.4)(1980.17,9.8)(1980.3,9.2)(1980.43,9.4)(1980.56,7.6)(1980.69,8.6)(1980.88,10.2)(1981.01,11.1)(1981.2,12.3)(1981.33,12.9)(1981.48,11.0)(1981.6,9.2)(1981.72,10.0)(1981.92,11.9)(1982.11,13.1)(1982.3,13.5)(1982.5,11.9)(1982.63,11.5)(1982.82,13.1)(1983.02,13.9)(1983.27,14.3)(1983.45,12.5)(1983.6,10.9)(1983.79,12.3)(1983.98,13.9)(1984.18,15.2)(1984.38,13.0)(1984.57,10.9)(1984.76,12.3)(1984.95,13.5)(1985.22,14.1)(0,nan)(1985.5,13.0)(1985.73,11.5)(1985.86,10.6)(1986.12,12.7)(1986.31,14.1)(1986.45,13.5)(1986.57,11.9)(1986.7,10.0)(1986.9,11.9)(1987.15,13.5)(1987.35,14.7)(1987.54,11.9)(1987.67,11.9)(1987.86,13.1)(1988.06,14.3)(1988.32,16.0)(1988.51,13.3)(1988.64,12.9)(1988.83,13.9)(1989.09,15.8)(1989.36,16.4)(1989.56,13.5)(1989.75,14.5)(1989.88,15.6)(1990.07,16.8)(1990.3,15.5)(1990.53,13.5)(1990.72,15.2)(1990.98,16.4)(1991.2,17.0)(1991.4,15.0)(1991.56,14.1)(1991.8,15.5)(1992.04,17.0)(1992.08,10.5)(1992.12,17.5)(1992.3,15.8)(1992.6,14.3)(1992.79,15.6)(1993.05,16.8)(1993.2,17.2)(0,nan)(1993.5,14.5)(1993.56,14.1)(1993.76,14.5)(1994.02,15.2)(1994.28,15.6)(1994.47,12.7)(1994.6,13.0)(1994.79,13.9)(1995.05,15.2)(1995.25,15.6)(1995.45,14.0)(1995.6,13.1)(1995.63,15.8)(1995.83,15.2)(1995.96,14.1)(1996.1,14.5)(1996.22,15.2)(1996.41,13.9)(0,nan)(1996.62,12.5)(1996.67,12.9)(1996.86,12.7)(1997.06,13.5)(1997.25,14.5)(1997.45,12.5)(1997.64,11.9)(1997.83,12.7)(1998.03,13.9)(1998.16,14.3)(0,nan)(2015.1,9.2)(2015.3,9.6)(0,nan)(2015.78,9.6)(2015.9,10.3)};
\addlegendentry{RHO 3}
% SEDRIANO 3
\addplot[color=cCas] coordinates {(1980.24,4.1)(1980.4,3.2)(1980.56,2.7)(1980.75,3.9)(1980.95,5.1)(1981.14,5.9)(1981.3,4.8)(1981.46,3.3)(1981.59,3.1)(1981.79,4.5)(1981.98,5.7)(1982.18,6.1)(1982.38,4.5)(1982.56,3.1)(1982.76,4.1)(1982.95,5.3)(1983.21,5.9)(1983.42,4.5)(1983.6,3.1)(1983.79,4.1)(1984.05,5.3)(1984.31,5.9)(1984.48,4.3)(1984.63,2.9)(1984.83,4.1)(1985.09,5.3)(1985.28,6.1)(1985.48,4.3)(1985.67,2.9)(1985.86,4.1)(1986.12,5.5)(1986.38,6.3)(1986.55,4.5)(1986.7,2.9)(1986.9,4.1)(1987.15,5.3)(1987.41,6.1)(1987.6,4.3)(1987.74,2.9)(1987.93,4.1)(1988.19,5.7)(1988.45,6.3)(1988.64,3.5)(1988.84,4.5)(1989.03,5.7)(1989.22,6.8)(1989.43,4.1)(1989.62,4.7)(1989.88,5.9)(1990.14,6.6)(1990.4,4.9)(1990.53,4.1)(1990.72,4.9)(1990.98,6.1)(1991.24,7.2)(1991.5,5.1)(1991.63,4.5)(1991.82,5.5)(1992.14,7.0)(1992.34,7.6)(1992.53,4.5)(1992.66,3.7)(1992.92,5.1)(1993.18,6.6)(1993.37,7.6)(1993.56,6.1)(1993.69,4.5)(1993.89,5.3)(1994.15,6.6)(1994.34,7.4)(0,nan)(1994.73,4.9)(1994.9,5.0)(1995.12,5.5)(1995.38,6.3)(1995.5,5.3)(1995.65,4.2)(1995.83,4.5)(1996.02,6.1)(1996.22,6.6)(0,nan)(1996.67,4.3)(1996.93,5.3)(1997.18,6.6)(1997.44,5.3)(1997.6,4.5)(1997.77,5.3)(1997.96,5.9)(1998.16,5.7)(1998.35,4.7)(1998.55,5.3)(1998.74,6.1)(0,nan)(1999.51,4.5)(1999.64,5.3)(1999.84,6.1)(2000.03,6.8)(2000.16,7.2)(2000.29,6.6)(0,nan)(2000.55,4.5)(2000.75,4.9)(2000.93,5.3)(2001.13,5.7)(2001.32,5.1)(2001.45,4.3)(0,nan)(2001.97,5.5)(2002.1,6.1)(2002.23,5.7)(2002.36,5.3)};
\addlegendentry{SEDRIANO 3}
% SESTO SAN GIOVANNI 16
\addplot[color=cCer] coordinates {(1977.07,23.1)(1977.26,23.5)(1977.39,23.1)(1977.59,19.4)(1977.65,21.1)(1977.78,19.9)(1977.9,20.9)(1978.1,20.7)(1978.3,20.5)(1978.43,20.7)(1978.68,18.4)(1978.81,20.5)(1979.07,21.7)(1979.27,22.1)(1979.46,21.5)(1979.59,20.3)(1979.78,19.4)(1979.98,20.1)(1980.17,21.1)(1980.37,20.9)(1980.56,20.5)(1980.69,21.1)(1980.95,22.3)(1981.14,23.5)(1981.27,25.2)(1981.4,25.4)(1981.6,24.4)(0,nan)(1981.9,22.3)(1981.98,22.7)(1982.24,24.2)(1982.43,24.4)(0,nan)(1982.55,23.4)(1982.63,23.1)(1982.88,23.3)(1983.15,23.5)(1983.4,23.1)(1983.6,22.1)(1983.8,21.5)(1983.98,22.9)(1984.24,24.0)(1984.57,21.3)(1984.83,22.7)(1985.09,23.1)(1985.35,22.9)(1985.6,20.7)(1985.86,22.9)(1986.12,22.7)(1986.38,23.1)(1986.7,21.1)(1987.03,23.1)(1987.28,24.2)(1987.6,21.9)(1987.93,22.3)(1988.25,24.2)(1988.51,22.7)(1988.84,23.3)(1989.1,23.1)(1989.3,24.2)(1989.5,23.0)(1989.75,23.3)(1990.07,24.2)(1990.46,24.8)(1990.65,24.6)(1990.9,25.2)(1991.17,25.4)(1991.37,26.4)(1991.62,25.0)(1991.88,25.8)(1992.2,27.2)(1992.4,27.6)(0,nan)(1992.6,25.6)(1992.66,25.4)(1992.92,25.2)(1993.18,26.0)(1993.37,26.6)(1993.56,23.1)(1993.7,22.3)(0,nan)(1994.3,22.9)(1994.38,22.5)(0,nan)(1994.73,20.9)(1994.92,20.5)(1995.12,21.5)(1995.25,21.7)(1995.44,20.5)(1995.65,20.3)(1995.89,20.1)(1996.09,19.9)(1996.35,20.5)(1996.54,19.9)(1996.67,19.2)(0,nan)(1996.9,19.0)(1996.99,18.8)(1997.31,19.4)(1997.57,18.2)(1997.83,19.2)(1998.09,19.9)(1998.35,19.0)(1998.54,18.4)(1998.87,19.9)(1999.13,21.5)(1999.32,20.9)(0,nan)(1999.58,20.7)(1999.77,19.9)(1999.96,20.7)(2000.22,21.9)(2000.42,21.1)(0,nan)(2000.68,20.7)(2000.81,18.8)(2001.13,18.2)(2001.39,18.0)(2001.65,17.8)(0,nan)(2001.97,19.0)(2002.1,19.9)(2002.23,19.0)(0,nan)(2002.62,18.2)(2002.87,17.8)(2003.13,18.4)(2003.3,18.3)(0,nan)(2003.75,18.5)(2003.91,18.2)(2004.1,17.8)(0,nan)(2004.3,17.0)(2004.55,17.2)(0,nan)(2004.94,18.0)(2005.14,18.2)(2005.33,17.4)(2005.52,17.0)(0,nan)(2005.98,17.0)(2006.17,17.0)(2006.37,17.4)(0,nan)(2007.06,17.0)(2007.12,18.8)};
\addlegendentry{SESTO SAN GIOVANNI 16}
\end{axis}
\end{tikzpicture}
\end{document}
